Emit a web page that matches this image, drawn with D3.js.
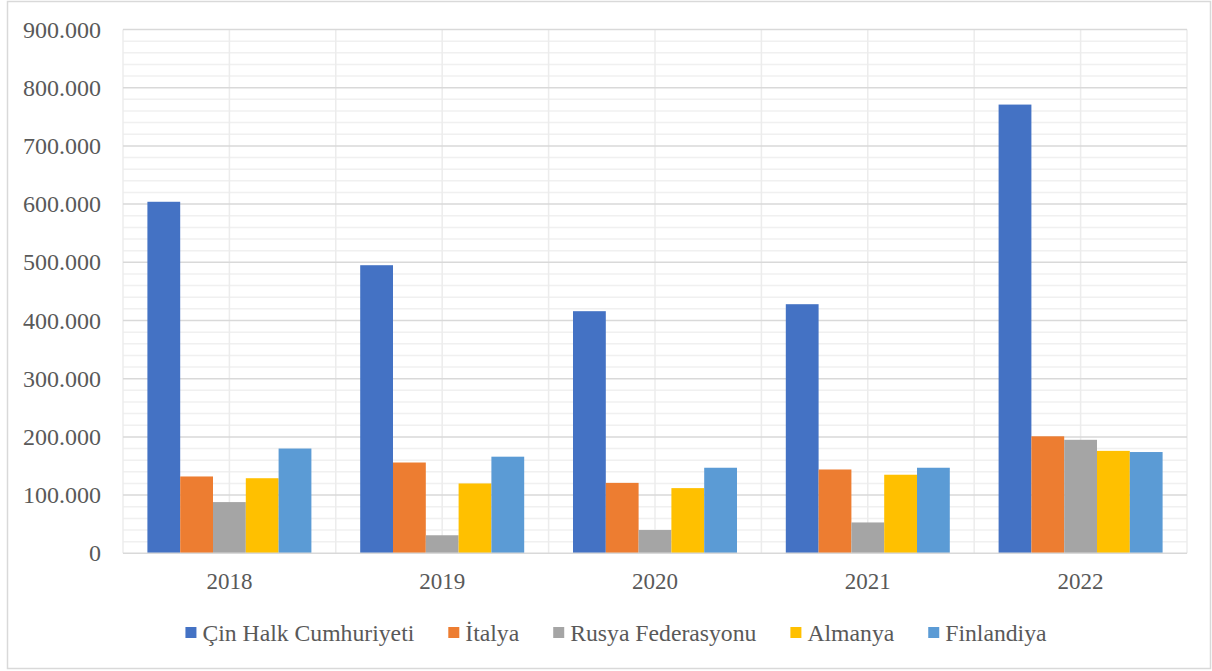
<!DOCTYPE html>
<html>
<head>
<meta charset="utf-8">
<script src="https://cdn.jsdelivr.net/npm/d3@7"></script>
<style>
  body { margin: 0; background: #fff; }
  text { font-family: "Liberation Serif", "Times New Roman", serif; fill: #595959; }
</style>
</head>
<body>
<div id="chart"></div>
<script>
// data
const years = ["2018", "2019", "2020", "2021", "2022"];
const seriesNames = ["Çin Halk Cumhuriyeti", "İtalya", "Rusya Federasyonu", "Almanya", "Finlandiya"];
const cin       = [604000, 495000, 416000, 428000, 771000];
const italya    = [132000, 156000, 121000, 144000, 201000];
const rusya     = [ 88000,  31000,  40000,  53000, 195000];
const almanya   = [129000, 120000, 112000, 135000, 176000];
const finlandiya= [180000, 166000, 147000, 147000, 174000];
const yTicks = [0, 100000, 200000, 300000, 400000, 500000, 600000, 700000, 800000, 900000];
const colors = ["#4472c4", "#ed7d31", "#a5a5a5", "#ffc000", "#5b9bd5"];

const allSeries = [cin, italya, rusya, almanya, finlandiya];

const W = 1212, H = 671;
const margin = {top: 29.5, right: 25, bottom: 118, left: 123};
const width = 1187 - margin.left, height = 553.3 - margin.top;

const svg = d3.select("#chart").append("svg")
  .attr("width", W).attr("height", H);

// outer frame
svg.append("rect")
  .attr("x", 7.5).attr("y", 1.5).attr("width", 1203).attr("height", 667)
  .attr("fill", "none").attr("stroke", "#d9d9d9").attr("stroke-width", 1.5);

const g = svg.append("g").attr("transform", `translate(${margin.left},${margin.top})`);

const x0 = d3.scaleBand().domain(years).range([0, width]).padding(0);
const x1 = d3.scaleBand().domain(seriesNames).range([0, x0.bandwidth()])
  .paddingInner(0).paddingOuter(0.744);
const y = d3.scaleLinear().domain([0, 900000]).range([height, 0]);

// minor horizontal grid
g.append("g").selectAll("line")
  .data(y.ticks(45).filter(v => v % 100000 !== 0))
  .join("line")
    .attr("x1", 0).attr("x2", width)
    .attr("y1", d => y(d)).attr("y2", d => y(d))
    .attr("stroke", "#f0f0f0").attr("stroke-width", 1.5);

// vertical grid (every half category)
const vx = [];
years.forEach(yr => { vx.push(x0(yr)); vx.push(x0(yr) + x0.bandwidth() / 2); });
vx.push(width);
g.append("g").selectAll("line")
  .data(vx)
  .join("line")
    .attr("x1", d => d).attr("x2", d => d)
    .attr("y1", 0).attr("y2", height)
    .attr("stroke", "#ececec").attr("stroke-width", 1.5);

// major horizontal grid
g.append("g").selectAll("line")
  .data(yTicks.slice(1))
  .join("line")
    .attr("x1", 0).attr("x2", width)
    .attr("y1", d => y(d)).attr("y2", d => y(d))
    .attr("stroke", "#d9d9d9").attr("stroke-width", 1.5);

// bars
const rows = years.map((yr, i) => ({year: yr, values: allSeries.map((s, j) => ({name: seriesNames[j], value: s[i], color: colors[j]}))}));
g.append("g").selectAll("g")
  .data(rows)
  .join("g")
    .attr("transform", d => `translate(${x0(d.year)},0)`)
  .selectAll("rect")
  .data(d => d.values)
  .join("rect")
    .attr("x", d => x1(d.name))
    .attr("y", d => y(d.value))
    .attr("width", x1.bandwidth())
    .attr("height", d => height - y(d.value))
    .attr("fill", d => d.color);

// baseline
g.append("line")
  .attr("x1", 0).attr("x2", width).attr("y1", height).attr("y2", height)
  .attr("stroke", "#d9d9d9").attr("stroke-width", 1.5);

// y axis labels
const locale = d3.formatLocale({decimal: ",", thousands: ".", grouping: [3], currency: ["", ""]});
const fmt = locale.format(",");
const yAxis = g.append("g")
  .call(d3.axisLeft(y).tickValues(yTicks).tickFormat(fmt).tickSize(0).tickPadding(22));
yAxis.select(".domain").remove();
yAxis.selectAll("text")
  .style("font-family", "Liberation Serif").style("font-size", "24px").attr("fill", "#595959");

// x axis labels
const xAxis = g.append("g").attr("transform", `translate(0,${height})`)
  .call(d3.axisBottom(x0).tickSize(0).tickPadding(19));
xAxis.select(".domain").remove();
xAxis.selectAll("text")
  .style("font-family", "Liberation Serif").style("font-size", "23px").attr("fill", "#595959");

// legend
const legend = svg.append("g");
const items = legend.selectAll("g")
  .data(seriesNames)
  .join("g");
items.append("rect")
  .attr("width", 11).attr("height", 11).attr("y", 627)
  .attr("fill", (d, i) => colors[i]);
items.append("text")
  .attr("x", 17).attr("y", 633)
  .attr("dy", "0.35em")
  .style("font-size", "23.7px")
  .text(d => d);
let cursor = 0;
items.each(function() {
  const it = d3.select(this);
  it.attr("transform", `translate(${cursor},0)`);
  cursor += 17 + it.select("text").node().getComputedTextLength() + 34;
});
const total = cursor - 34;
legend.attr("transform", `translate(${616 - total / 2},0)`);
</script>
</body>
</html>
